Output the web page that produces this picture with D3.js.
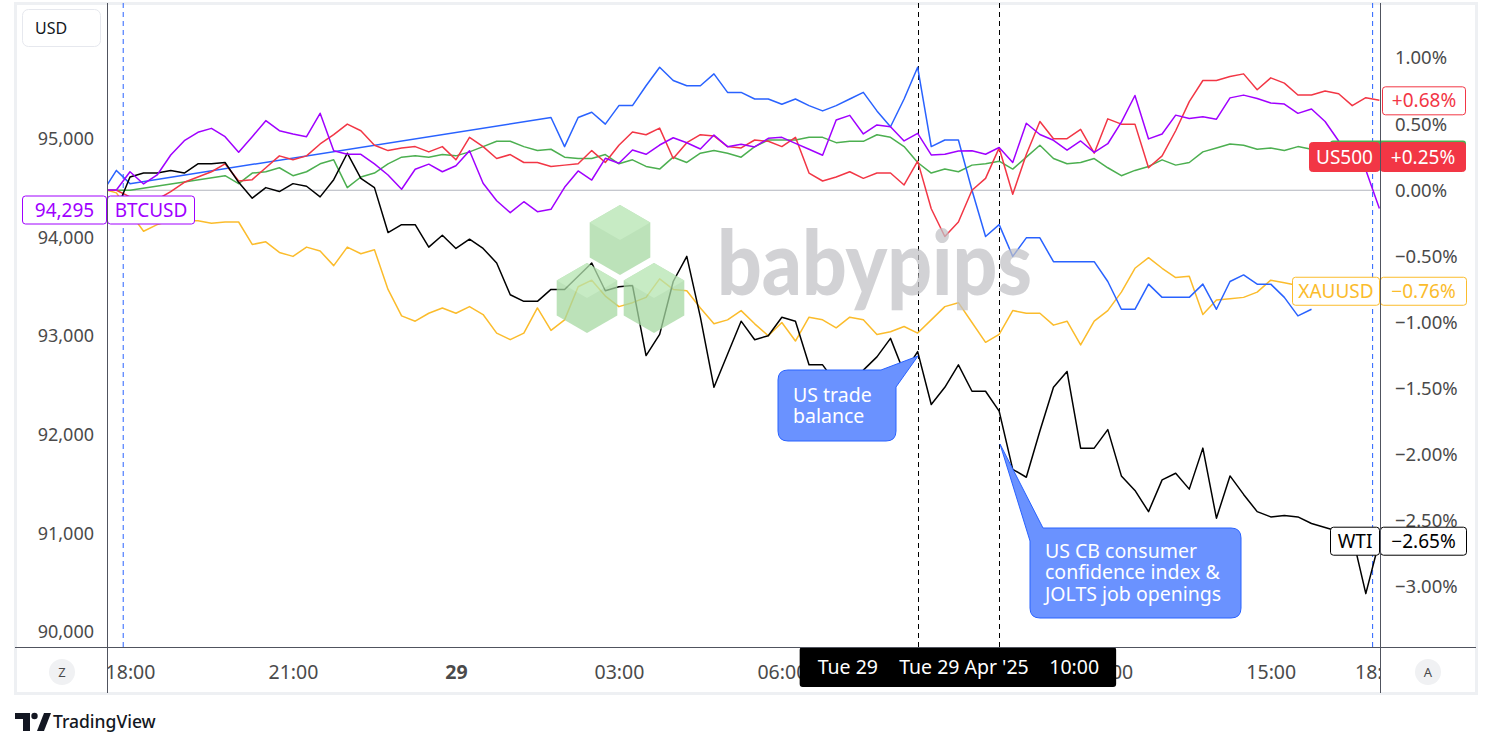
<!DOCTYPE html>
<html>
<head>
<meta charset="utf-8">
<script src="https://cdn.jsdelivr.net/npm/d3@7"></script>
<style>
  body { margin: 0; background: #fff; }
  svg { display: block; font-family: "Noto Sans", sans-serif; }
</style>
</head>
<body>
<svg id="chart" width="1491" height="748"></svg>
<script>
// 15-minute bars, bar 0 = Mon 18:00, the 17:00-18:00 session break is skipped
const firstBar = -2;
// 09:00 (bar 60) sits under the crosshair labels, so it is not listed
const tickBars = [0, 12, 24, 36, 48, 72, 84, 92];
const tickLabels = ["18:00", "21:00", "29", "03:00", "06:00", "12:00", "15:00", "18:00"];
const usdTicks = [95000, 94000, 93000, 92000, 91000, 90000];
const pctTicks = [1, 0.5, 0, -0.5, -1, -1.5, -2, -2.5, -3];
const sessionBreaks = [-0.5, 91.5];
const eventBars = [58, 64];
const eventLabels = [["Tue 29", ""], ["Tue 29 Apr '25", "10:00"]];

// BTCUSD in USD (left scale)
const btcusd = [
  94483, 94483, 94668, 94544, 94635, 94838, 94983, 95068, 95108, 95023,
  94865, 95023, 95186, 95084, 95051, 95023, 95261, 94881, 94845, 94845,
  94747, 94635, 94490, 94693, 94745, 94668, 94729, 94881, 94551, 94374,
  94253, 94364, 94263, 94287, 94510, 94676, 94584, 94804, 94754, 94888,
  94845, 94939, 95013, 94962, 94899, 95041, 94922, 94946, 94919, 95007,
  95017, 94956, 94896, 94835, 95193, 95240, 95051, 95142, 95125, 94980,
  95058, 94838, 94845, 94878, 94881, 94845, 94914, 94762, 95160, 95046,
  94987, 94887, 94980, 94865, 94952, 95172, 95441, 95001, 95051, 95242,
  95208, 95225, 95201, 95417, 95445, 95410, 95365, 95354, 95260, 95305,
  95177, 94980, 94868, 94686, 94295
];

// the others in % change (right scale)
const redPct = [
  0.00, 0.00, -0.05, -0.08, -0.07, -0.01, 0.06, 0.10, 0.14, 0.20,
  0.07, 0.08, 0.17, 0.26, 0.23, 0.26, 0.35, 0.42, 0.50, 0.45,
  0.34, 0.30, 0.32, 0.33, 0.29, 0.33, 0.23, 0.40, 0.33, 0.24,
  0.27, 0.21, 0.21, 0.18, 0.19, 0.20, 0.30, 0.21, 0.34, 0.44,
  0.42, 0.47, 0.24, 0.36, 0.42, 0.41, 0.33, 0.32, 0.38, 0.37,
  0.33, 0.40, 0.13, 0.07, 0.10, 0.14, 0.09, 0.13, 0.13, 0.04,
  0.22, -0.14, -0.35, -0.24, 0.00, 0.09, 0.32, -0.03, 0.27, 0.52,
  0.39, 0.39, 0.46, 0.28, 0.54, 0.50, 0.50, 0.17, 0.26, 0.45,
  0.67, 0.83, 0.83, 0.86, 0.88, 0.76, 0.85, 0.81, 0.72, 0.72,
  0.75, 0.73, 0.64, 0.70, 0.68
];

const greenPct = [
  0.00, 0.00, 0.00, null, null, null, null, null, null, 0.11,
  0.05, 0.13, 0.14, 0.17, 0.11, 0.14, 0.20, 0.23, 0.02, 0.10,
  0.13, 0.20, 0.25, 0.26, 0.25, 0.27, 0.26, 0.29, 0.33, 0.37,
  0.37, 0.33, 0.30, 0.31, 0.25, 0.24, 0.24, 0.27, 0.20, 0.23,
  0.18, 0.16, 0.25, 0.21, 0.28, 0.30, 0.28, 0.25, 0.33, 0.38,
  0.38, 0.38, 0.40, 0.40, 0.36, 0.37, 0.37, 0.42, 0.40, 0.33,
  0.21, 0.13, 0.16, 0.14, 0.19, 0.20, 0.22, 0.16, 0.25, 0.34,
  0.24, 0.20, 0.21, 0.24, 0.17, 0.11, 0.15, 0.18, 0.23, 0.19,
  0.21, 0.29, 0.32, 0.35, 0.34, 0.31, 0.32, 0.30, 0.33, 0.31,
  0.33, 0.35, 0.35, 0.35, 0.36
];

const bluePct = [
  -0.01, 0.15, 0.05, null, null, null, null, null, null, null,
  null, null, null, null, null, null, null, null, null, null,
  null, null, null, null, null, null, null, null, null, null,
  null, null, null, 0.55, 0.33, 0.55, 0.59, 0.50, 0.64, 0.64,
  0.79, 0.93, 0.83, 0.79, 0.79, 0.88, 0.74, 0.74, 0.69, 0.69,
  0.65, 0.69, 0.64, 0.60, 0.64, 0.69, 0.74, 0.60, 0.48, 0.69,
  0.93, 0.33, 0.38, 0.38, 0.00, -0.35, -0.26, -0.50, -0.36, -0.36,
  -0.54, -0.54, -0.54, -0.54, -0.69, -0.90, -0.90, -0.71, -0.81, -0.81,
  -0.81, -0.71, -0.90, -0.69, -0.64, -0.71, -0.71, -0.81, -0.95, -0.90,
  null, null, null, null, null
];

const xauusdPct = [
  0.01, -0.02, -0.17, -0.31, -0.26, -0.23, -0.23, -0.23, -0.25, -0.24,
  -0.24, -0.41, -0.39, -0.47, -0.50, -0.43, -0.46, -0.57, -0.43, -0.48,
  -0.45, -0.75, -0.95, -0.99, -0.93, -0.89, -0.93, -0.88, -0.94, -1.08,
  -1.13, -1.08, -0.89, -1.06, -0.98, -0.73, -0.68, -0.80, -0.88, -0.85,
  -0.81, -0.67, -0.75, -0.76, -0.89, -1.01, -0.98, -0.91, -1.01, -1.10,
  -1.00, -1.14, -0.96, -0.98, -1.04, -0.96, -0.98, -1.09, -1.07, -1.03,
  -1.08, -0.98, -0.88, -0.85, -1.00, -1.15, -1.09, -0.91, -0.93, -0.93,
  -1.02, -0.99, -1.17, -0.99, -0.91, -0.77, -0.59, -0.51, -0.59, -0.66,
  -0.65, -0.94, -0.83, -0.82, -0.81, -0.77, -0.68, -0.70, -0.72, -0.73,
  -0.75, -0.76, -0.76, -0.76, -0.76
];

const wtiPct = [
  null, -0.15, 0.10, 0.13, 0.13, 0.15, 0.13, 0.20, 0.20, 0.21,
  0.06, -0.06, 0.02, -0.01, 0.05, 0.03, -0.05, 0.08, 0.28, 0.09,
  0.02, -0.32, -0.26, -0.26, -0.43, -0.34, -0.44, -0.37, -0.44, -0.55,
  -0.79, -0.84, -0.84, -0.75, -0.75, -0.65, -0.55, -0.76, -0.73, -0.72,
  -1.25, -1.09, -0.69, -0.50, -0.96, -1.49, -1.24, -0.99, -1.13, -1.10,
  -0.96, -0.99, -1.32, -1.32, -1.46, -1.52, -1.36, -1.26, -1.12, -1.38,
  -1.22, -1.62, -1.49, -1.32, -1.52, -1.52, -1.67, -2.11, -2.17, -1.82,
  -1.49, -1.37, -1.95, -1.95, -1.81, -2.16, -2.27, -2.43, -2.19, -2.14,
  -2.26, -1.95, -2.48, -2.16, -2.30, -2.43, -2.47, -2.46, -2.47, -2.52,
  -2.55, -2.58, -2.61, -3.05, -2.65
];

const colors = {
  btc: "#a000ff", red: "#f23645", green: "#4caf50",
  blue: "#2962ff", gold: "#fbbc2c", wti: "#000000"
};

const svg = d3.select("#chart");
const plot = { left: 107, right: 1380, top: 3, bottom: 647 };
const textColor = "#4a4a4a";

const bars = d3.range(firstBar, firstBar + btcusd.length);
const x = d3.scaleLinear().domain([0, 92]).range([130, 1379.4]);
const yPct = d3.scaleLinear().domain([-3, 1]).range([587, 58]);
const yUsd = d3.scaleLinear().domain([90000, 95000]).range([632, 139]);

svg.append("rect").attr("width", 1491).attr("height", 748).attr("fill", "#fff");

// outer frame
svg.append("rect")
  .attr("x", 15.5).attr("y", 3.5).attr("width", 1461).attr("height", 690)
  .attr("fill", "none").attr("stroke", "#eef0f3").attr("stroke-width", 3);

const defs = svg.append("defs");
defs.append("clipPath").attr("id", "plotClip")
  .append("rect")
  .attr("x", plot.left).attr("y", plot.top)
  .attr("width", plot.right - plot.left).attr("height", plot.bottom - plot.top);
defs.append("clipPath").attr("id", "timeClip")
  .append("rect")
  .attr("x", plot.left).attr("y", plot.bottom)
  .attr("width", plot.right - plot.left).attr("height", 46);

const chart = svg.append("g").attr("clip-path", "url(#plotClip)");

// 0% base line
chart.append("line")
  .attr("x1", plot.left).attr("x2", plot.right)
  .attr("y1", yPct(0)).attr("y2", yPct(0))
  .attr("stroke", "#b2b5be").attr("stroke-width", 1);

// session breaks
chart.selectAll(".session")
  .data(sessionBreaks)
  .join("line")
  .attr("x1", d => x(d)).attr("x2", d => x(d))
  .attr("y1", plot.top).attr("y2", plot.bottom)
  .attr("stroke", colors.blue).attr("stroke-dasharray", "5,4");

// news event lines
chart.selectAll(".event")
  .data(eventBars)
  .join("line")
  .attr("x1", d => Math.round(x(d)) + 0.5).attr("x2", d => Math.round(x(d)) + 0.5)
  .attr("y1", plot.top).attr("y2", plot.bottom)
  .attr("stroke", "#000").attr("stroke-dasharray", "5,4");

function points(values) {
  return bars.map((b, k) => [b, values[k]]).filter(d => d[1] != null);
}

const pctLine = d3.line().x(d => x(d[0])).y(d => yPct(d[1]));
const usdLine = d3.line().x(d => x(d[0])).y(d => yUsd(d[1]));

const pctSeries = [
  { values: xauusdPct, color: colors.gold },
  { values: greenPct, color: colors.green },
  { values: bluePct, color: colors.blue },
  { values: redPct, color: colors.red },
  { values: wtiPct, color: colors.wti }
];

chart.selectAll(".series")
  .data(pctSeries)
  .join("path")
  .attr("fill", "none")
  .attr("stroke", d => d.color)
  .attr("stroke-width", 1.5)
  .attr("stroke-linejoin", "round")
  .attr("d", d => pctLine(points(d.values)));

chart.append("path")
  .attr("fill", "none")
  .attr("stroke", colors.btc)
  .attr("stroke-width", 1.5)
  .attr("stroke-linejoin", "round")
  .attr("d", usdLine(points(btcusd)));

// babypips watermark
const wm = svg.append("g").attr("opacity", 0.75);
function cube(cx, cy, r) {
  const h = r * Math.sqrt(3) / 2;
  const g = wm.append("g");
  g.append("path")
    .attr("d", `M${cx},${cy - r} L${cx + h},${cy - r / 2} L${cx + h},${cy + r / 2} L${cx},${cy + r} L${cx - h},${cy + r / 2} L${cx - h},${cy - r / 2} Z`)
    .attr("fill", "#a6d9a2");
  g.append("path")
    .attr("d", `M${cx},${cy - r} L${cx + h},${cy - r / 2} L${cx},${cy} L${cx - h},${cy - r / 2} Z`)
    .attr("fill", "#b5e5b1");
}
cube(620, 240, 35);
cube(587, 298, 35);
cube(654, 298, 35);
svg.append("text")
  .attr("x", 717).attr("y", 295)
  .attr("font-family", "Lato, 'Noto Sans', sans-serif")
  .attr("font-weight", 900)
  .attr("font-size", 90)
  .attr("textLength", 315)
  .attr("lengthAdjust", "spacingAndGlyphs")
  .attr("fill", "#c2c2c6")
  .attr("opacity", 0.72)
  .text("babypips");

// callouts
const calloutFill = "#6a92ff";
const calloutStroke = "#2962ff";
svg.append("path")
  .attr("d", "M788,370 L881,370 L918,356 L896,387 L896,431 Q896,441 886,441 L788,441 Q778,441 778,431 L778,380 Q778,370 788,370 Z")
  .attr("fill", calloutFill).attr("stroke", calloutStroke).attr("stroke-width", 1);
svg.append("path")
  .attr("d", "M1043,528 L1231,528 Q1241,528 1241,538 L1241,608 Q1241,618 1231,618 L1040,618 Q1030,618 1030,608 L1030,541 L1000,444 Z")
  .attr("fill", calloutFill).attr("stroke", calloutStroke).attr("stroke-width", 1);

function textLines(x0, y0, lines, step) {
  svg.append("g").selectAll("text")
    .data(lines)
    .join("text")
    .attr("x", x0).attr("y", (d, k) => y0 + k * step)
    .attr("dy", "0.35em")
    .attr("fill", "#fff").attr("font-size", 19.5)
    .text(d => d);
}
textLines(793, 395, ["US trade", "balance"], 21);
textLines(1045, 551, ["US CB consumer", "confidence index &", "JOLTS job openings"], 21.5);

// left price axis
const leftAxis = svg.append("g")
  .attr("transform", `translate(${plot.left},0)`)
  .call(d3.axisLeft(yUsd).tickValues(usdTicks).tickSize(0).tickPadding(13).tickFormat(d3.format(",")));
leftAxis.select(".domain").remove();
leftAxis.selectAll("text").attr("font-size", 18).attr("fill", textColor).attr("font-family", "'Noto Sans', sans-serif");

// right percent axis
const rightAxis = svg.append("g")
  .attr("transform", `translate(${plot.right},0)`)
  .call(d3.axisRight(yPct).tickValues(pctTicks).tickSize(0).tickPadding(15)
    .tickFormat(d => d3.format(".2f")(d) + "%"));
rightAxis.select(".domain").remove();
rightAxis.selectAll("text").attr("font-size", 18.5).attr("fill", textColor).attr("font-family", "'Noto Sans', sans-serif");

// time axis
const timeAxis = svg.append("g")
  .attr("clip-path", "url(#timeClip)")
  .append("g")
  .attr("transform", `translate(0,${plot.bottom})`)
  .call(d3.axisBottom(x).tickValues(tickBars).tickSize(0).tickPadding(18)
    .tickFormat((d, k) => tickLabels[k]));
timeAxis.select(".domain").remove();
timeAxis.selectAll("text")
  .attr("font-size", 19.5).attr("fill", textColor).attr("font-family", "'Noto Sans', sans-serif")
  .attr("font-weight", (d, k) => tickLabels[k] === "29" ? 700 : 400);

// price labels
function tag(x0, y0, w, h, label, color, filled) {
  svg.append("rect")
    .attr("x", x0 + 0.5).attr("y", y0 + 0.5).attr("width", w - 1).attr("height", h - 1)
    .attr("rx", 3)
    .attr("fill", filled ? color : "#fff")
    .attr("stroke", color).attr("stroke-width", 1);
  svg.append("text")
    .attr("x", x0 + w / 2).attr("y", y0 + h / 2)
    .attr("dy", "0.35em").attr("text-anchor", "middle")
    .attr("font-size", 19)
    .attr("fill", filled ? "#fff" : color)
    .text(label);
}
const pctFmt = d => (d > 0 ? "+" : "") + d3.format(".2f")(d) + "%";
const lastRed = redPct[redPct.length - 1];
const lastGold = xauusdPct[xauusdPct.length - 1];
const lastWti = wtiPct[wtiPct.length - 1];
const lastBtc = btcusd[btcusd.length - 1];

tag(22, yUsd(lastBtc) - 13, 85, 29, d3.format(",")(lastBtc), colors.btc, false);
tag(107, yUsd(lastBtc) - 13, 88, 29, "BTCUSD", colors.btc, false);

tag(1382, yPct(lastRed) - 14, 84, 29, pctFmt(lastRed), colors.red, false);

svg.append("rect")
  .attr("x", 1330).attr("y", 140.5).attr("width", 136).attr("height", 30)
  .attr("rx", 3).attr("fill", colors.green);
tag(1309, 142, 71, 30, "US500", colors.red, true);
tag(1380, 142, 86, 30, "+0.25%", colors.red, true);

tag(1292, yPct(lastGold) - 14, 88, 29, "XAUUSD", colors.gold, false);
tag(1380, yPct(lastGold) - 14, 87, 29, pctFmt(lastGold), colors.gold, false);

tag(1330, yPct(lastWti) - 14, 50, 29, "WTI", colors.wti, false);
tag(1380, yPct(lastWti) - 14, 87, 29, pctFmt(lastWti), colors.wti, false);

// crosshair time labels for the two news lines (the second one covers most of the first)
eventBars.forEach((b, k) => {
  const cx = x(b);
  const g = svg.append("g");
  g.append("rect")
    .attr("x", cx - 118).attr("y", plot.bottom).attr("width", 235).attr("height", 40)
    .attr("rx", 3).attr("fill", "#000");
  g.append("text")
    .attr("x", cx - 100).attr("y", plot.bottom + 20).attr("dy", "0.35em")
    .attr("fill", "#fff").attr("font-size", 19.5)
    .text(eventLabels[k][0]);
  g.append("text")
    .attr("x", cx + 100).attr("y", plot.bottom + 20).attr("dy", "0.35em")
    .attr("text-anchor", "end")
    .attr("fill", "#fff").attr("font-size", 19.5)
    .text(eventLabels[k][1]);
});

// pane borders
svg.append("line").attr("x1", 15).attr("x2", 1476)
  .attr("y1", plot.bottom + 0.5).attr("y2", plot.bottom + 0.5)
  .attr("stroke", "#50535e");
[plot.left, plot.right].forEach(px => {
  svg.append("line").attr("x1", px + 0.5).attr("x2", px + 0.5)
    .attr("y1", 3).attr("y2", 693).attr("stroke", "#50535e");
});

// currency box
svg.append("rect")
  .attr("x", 22.5).attr("y", 9.5).attr("width", 78).attr("height", 37)
  .attr("rx", 6).attr("fill", "#fff").attr("stroke", "#e6e8ee");
svg.append("text").attr("x", 35).attr("y", 28).attr("dy", "0.35em")
  .attr("font-size", 16).attr("fill", "#131722").text("USD");

// scale buttons
[[62, "Z"], [1428, "A"]].forEach(([bx, t]) => {
  svg.append("circle").attr("cx", bx).attr("cy", 672).attr("r", 13).attr("fill", "#f0f1f3");
  svg.append("text").attr("x", bx).attr("y", 672).attr("dy", "0.35em")
    .attr("text-anchor", "middle").attr("font-size", 13).attr("fill", "#4a4a4a").text(t);
});

// TradingView logo
const logo = svg.append("g").attr("fill", "#131722");
logo.append("path").attr("d", "M15,713 H30 V731 H23 V719 H15 Z");
logo.append("circle").attr("cx", 34.5).attr("cy", 716).attr("r", 3.2);
logo.append("path").attr("d", "M44,713 H51 L44,731 H37 Z");
svg.append("text").attr("x", 53).attr("y", 722).attr("dy", "0.35em")
  .attr("font-size", 17.5).attr("font-weight", 500).attr("fill", "#131722")
  .text("TradingView");
</script>
</body>
</html>
